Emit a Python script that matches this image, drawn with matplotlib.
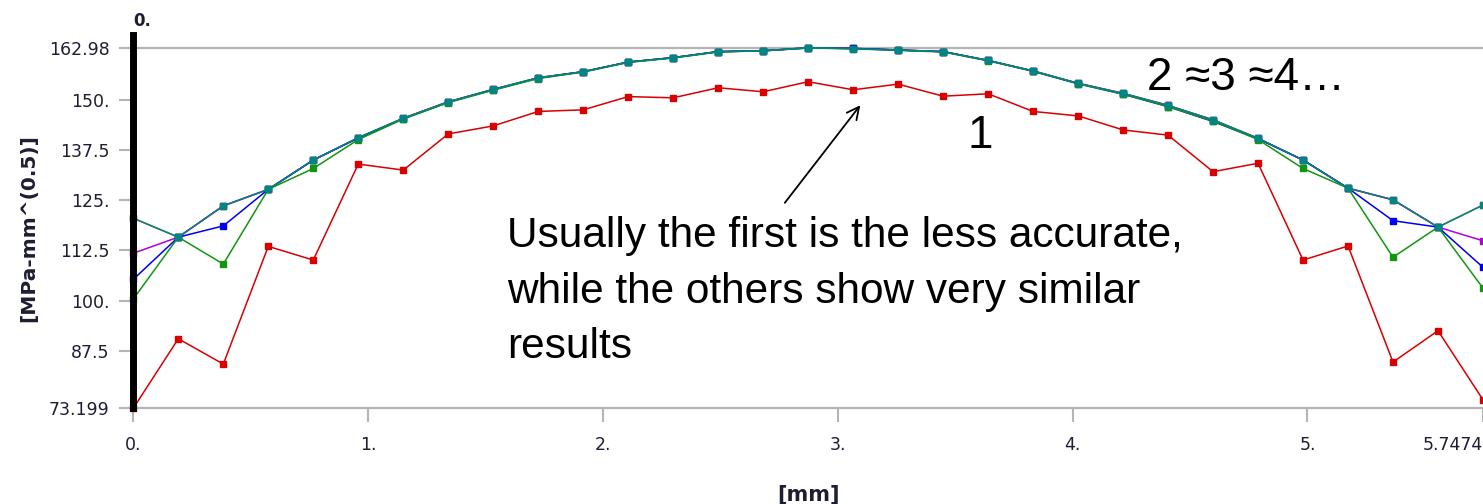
import matplotlib
matplotlib.use("Agg")
import matplotlib.pyplot as plt

# position along path [mm]
dist = [0.0, 0.1916, 0.3832, 0.5747, 0.7663, 0.9579, 1.1495, 1.3411, 1.5326, 1.7242,
        1.9158, 2.1074, 2.2990, 2.4905, 2.6821, 2.8737, 3.0653, 3.2569, 3.4484, 3.6400,
        3.8316, 4.0232, 4.2148, 4.4063, 4.5979, 4.7895, 4.9811, 5.1727, 5.3642, 5.5558,
        5.7474]

# contour 1 (least accurate)
k_c1 = [73.199, 90.5, 84.2, 113.5, 110.1, 134.0, 132.5, 141.5, 143.5, 147.1,
        147.5, 150.8, 150.5, 153.0, 152.0, 154.5, 152.5, 153.9, 150.9, 151.5,
        147.1, 146.0, 142.5, 141.2, 132.1, 134.2, 110.1, 113.6, 84.7, 92.5,
        75.3]

# contours 2..6
k_c2 = [100.4, 115.8, 109.1, 127.7, 132.9, 140.1, 145.2, 149.3, 152.4, 155.3,
        156.9, 159.3, 160.4, 161.9, 162.2, 162.9, 162.7, 162.3, 161.9, 159.7,
        157.1, 154.0, 151.4, 148.3, 144.7, 140.1, 132.9, 128.0, 110.8, 118.3,
        103.1]
k_c3 = [105.3, 115.8, 118.6, 127.7, 135.0, 140.5, 145.3, 149.4, 152.5, 155.4,
        157.0, 159.4, 160.5, 162.0, 162.2, 162.9, 162.8, 162.4, 162.0, 159.8,
        157.1, 154.0, 151.4, 148.3, 144.6, 140.3, 135.0, 128.0, 119.9, 118.3,
        108.3]
k_c4 = [111.8, 115.8, 123.6, 127.7, 135.0, 140.5, 145.4, 149.5, 152.6, 155.5,
        157.0, 159.4, 160.5, 162.0, 162.2, 162.98, 162.8, 162.4, 162.0, 159.8,
        157.2, 154.1, 151.6, 148.6, 145.0, 140.4, 135.0, 128.0, 125.1, 118.3,
        114.9]
k_c5 = [120.5, 115.8, 123.6, 127.7, 135.0, 140.5, 145.4, 149.5, 152.6, 155.5,
        157.0, 159.4, 160.5, 162.0, 162.2, 162.98, 162.8, 162.4, 162.0, 159.8,
        157.2, 154.1, 151.6, 148.6, 145.0, 140.4, 135.0, 128.0, 125.1, 118.3,
        123.8]
k_c6 = [120.5, 115.8, 123.6, 127.7, 135.0, 140.6, 145.4, 149.5, 152.6, 155.5,
        157.0, 159.4, 160.5, 162.0, 162.2, 162.98, 162.7, 162.4, 162.0, 159.8,
        157.2, 154.1, 151.6, 148.6, 145.0, 140.4, 135.0, 128.0, 125.1, 118.3,
        123.8]

series = [
    (k_c1, "#d80000"),
    (k_c5, "#d2691e"),
    (k_c4, "#b000e0"),
    (k_c3, "#0000f0"),
    (k_c2, "#10960f"),
    (k_c6, "#008585"),
]

y_ticks = [162.98, 150.0, 137.5, 125.0, 112.5, 100.0, 87.5, 73.199]
y_labels = ["162.98", "150.", "137.5", "125.", "112.5", "100.", "87.5", "73.199"]
x_ticks = [0, 1, 2, 3, 4, 5, 5.7474]
x_labels = ["0.", "1.", "2.", "3.", "4.", "5.", "5.7474"]

note_text = "Usually the first is the less accurate,\nwhile the others show very similar\nresults"

txt_col = "#1e1e32"
axis_grey = "#b4b4b4"

fig = plt.figure(figsize=(14.83, 5.04), dpi=100)
ax = fig.add_axes([0.0899, 0.19, 0.9101, 0.7154])

for vals, col in series:
    ax.plot(dist, vals, color=col, lw=1.1, marker="s", ms=4.5, mec=col, mfc=col,
            clip_on=False, zorder=3)

ax.set_xlim(0, 5.7474)
ax.set_ylim(73.199, 162.98)

ax.set_yticks(y_ticks)
ax.set_yticklabels(y_labels)
ax.set_xticks(x_ticks)
ax.set_xticklabels(x_labels)
ax.get_xticklabels()[-1].set_horizontalalignment("right")

ax.tick_params(axis="both", colors=axis_grey, labelcolor=txt_col, labelsize=12.5,
               length=10, width=1.5)
ax.tick_params(axis="y", pad=7)
ax.tick_params(axis="x", pad=10)

for s in ["left", "right"]:
    ax.spines[s].set_visible(False)
for s in ["top", "bottom"]:
    ax.spines[s].set_color(axis_grey)
    ax.spines[s].set_linewidth(1.6)

# probe line at x = 0
ax.axvline(0, ymin=0, ymax=1.035, color="black", lw=5, clip_on=False, zorder=4)
ax.text(0, 1.075, "0.", transform=ax.get_xaxis_transform(), fontsize=12,
        fontweight="bold", color=txt_col, ha="left", va="center")

ax.set_ylabel("[MPa-mm^(0.5)]", fontsize=14.5, fontweight="bold", color=txt_col,
              labelpad=8)
ax.set_xlabel("[mm]", fontsize=15, fontweight="bold", color=txt_col, labelpad=22)

fam = ["Liberation Sans", "DejaVu Sans"]
fig.text(507 / 1483, 1 - 358 / 504, note_text, family=fam, fontsize=30.5,
         ha="left", va="baseline", linespacing=1.5, color="black")
fig.text(980 / 1483, 1 - 148 / 504, "1", family=fam, fontsize=33, ha="center",
         va="baseline", color="black")
fig.text(1147 / 1483, 1 - 90 / 504, "2 \u22483 \u22484\u2026", family=fam,
         fontsize=33, ha="left", va="baseline", color="black")

ax.annotate("", xy=(3.103, 149.2), xytext=(2.767, 123.8),
            arrowprops=dict(arrowstyle="->", color="black", lw=1.3,
                            mutation_scale=22))

fig.savefig("out.png", dpi=100)
